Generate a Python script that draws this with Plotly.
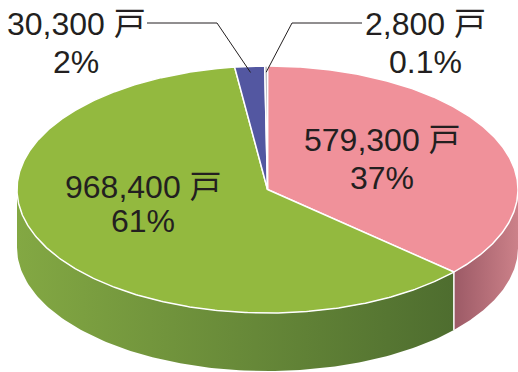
import numpy as np
import plotly.graph_objects as go

# ---- data (clockwise from 12 o'clock) ----
categories = ["A", "B", "C", "D"]
values = [579300, 968400, 30300, 2800]
value_labels = ["579,300 戸", "968,400 戸", "30,300 戸", "2,800 戸"]
pct_labels = ["37%", "61%", "2%", "0.1%"]
top_colors = ["#F0919A", "#93B93F", "#5357A1", "#A9AAB3"]
side_colors = [("#9C5A66", "#CC8189"), ("#83A843", "#4E6D2F"),
               ("#3A3D7A", "#4A4D90"), ("#888890", "#9A9AA2")]

# ---- geometry ----
W, H = 518, 372
cx, cy, rx, ry, depth = 267.5, 189.5, 250.5, 123.5, 58

total = float(sum(values))
bounds = np.concatenate([[0], np.cumsum(values)]) / total * 360.0


def pt(a_deg, r=1.0, dz=0.0):
    a = np.radians(a_deg)
    return cx + r * rx * np.sin(a), cy - r * ry * np.cos(a) + dz


fig = go.Figure()

# side walls (front half only: 90..270 deg)
for i in range(len(values)):
    a1, a2 = max(bounds[i], 90), min(bounds[i + 1], 270)
    if a2 <= a1:
        continue
    ang = np.linspace(a1, a2, 120)
    xt, yt = pt(ang)
    xb, yb = pt(ang[::-1], dz=depth)
    xs = np.concatenate([xt, xb, [xt[0]]])
    ys = np.concatenate([yt, yb, [yt[0]]])
    fig.add_trace(go.Scatter(
        x=xs, y=ys, mode="lines", fill="toself", line=dict(width=0),
        fillgradient=dict(type="horizontal",
                          colorscale=[[0, side_colors[i][0]], [1, side_colors[i][1]]]),
        hoverinfo="skip", showlegend=False))

# divider lines on side walls
for b in bounds[1:-1]:
    if 90 < b < 270:
        x0, y0 = pt(b)
        x1, y1 = pt(b, dz=depth)
        fig.add_trace(go.Scatter(x=[x0, x1], y=[y0, y1], mode="lines",
                                 line=dict(color="white", width=1.5),
                                 hoverinfo="skip", showlegend=False))

# top faces
for i in range(len(values)):
    ang = np.linspace(bounds[i], bounds[i + 1], max(4, int((bounds[i + 1] - bounds[i]) * 2)))
    xa, ya = pt(ang)
    xs = np.concatenate([[cx], xa, [cx]])
    ys = np.concatenate([[cy], ya, [cy]])
    fig.add_trace(go.Scatter(
        x=xs, y=ys, mode="lines", fill="toself", fillcolor=top_colors[i],
        line=dict(color="white", width=1.5), hoverinfo="skip", showlegend=False))

# leader lines for small slices
font = dict(family="Liberation Sans, Arial, Noto Sans CJK JP", size=32, color="#231F20")
leaders = {2: (147, 217), 3: (362, 292)}
for i, (xs0, xs1) in leaders.items():
    mid = (bounds[i] + bounds[i + 1]) / 2
    ex, ey = pt(mid, r=0.95)
    fig.add_trace(go.Scatter(x=[xs0, xs1, ex], y=[23, 23, ey], mode="lines",
                             line=dict(color="#231F20", width=1),
                             hoverinfo="skip", showlegend=False))

# label positions (line1 center, line2 center)
label_pos = {0: (382, 140, 178), 1: (143, 187, 221), 2: (76, 24, 62), 3: (425, 24, 62)}
for i, (lx, l1, l2) in label_pos.items():
    fig.add_annotation(x=lx, y=l1, text=value_labels[i], showarrow=False,
                       xanchor="center", yanchor="middle", font=font)
    fig.add_annotation(x=lx, y=l2, text=pct_labels[i], showarrow=False,
                       xanchor="center", yanchor="middle", font=font)

fig.update_layout(
    width=W, height=H, margin=dict(l=0, r=0, t=0, b=0),
    paper_bgcolor="white", plot_bgcolor="white",
    xaxis=dict(range=[0, W], visible=False, fixedrange=True),
    yaxis=dict(range=[H, 0], visible=False, fixedrange=True),
    showlegend=False,
)

fig.write_html("out.html")
